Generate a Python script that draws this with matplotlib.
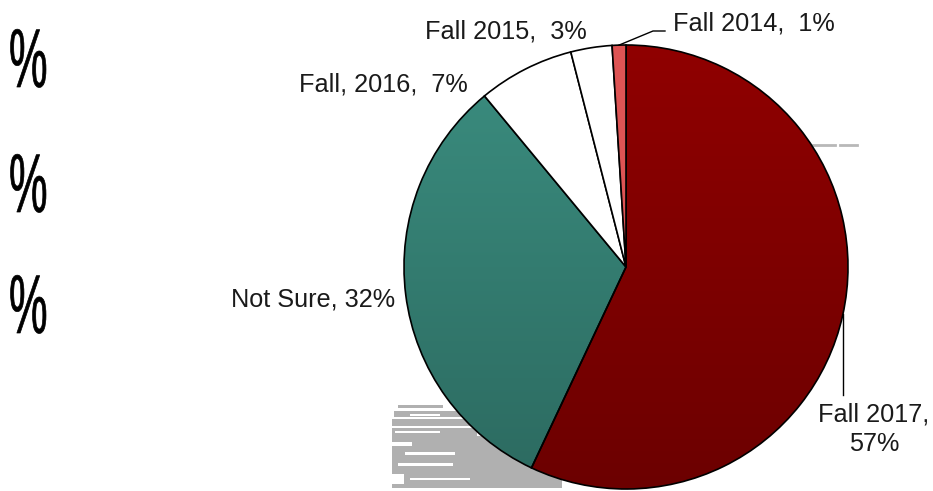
import numpy as np
import matplotlib.pyplot as plt
from matplotlib.colors import LinearSegmentedColormap
from matplotlib.patheffects import AbstractPathEffect
from matplotlib.transforms import Affine2D
from matplotlib.patches import Rectangle

# --- Données ---
labels = ["Fall 2017,\n57%", "Not Sure, 32%", "Fall, 2016,  7%", "Fall 2015,  3%", "Fall 2014,  1%"]
values = [57, 32, 7, 3, 1]
colors = ["none", "none", "white", "white", "#de5454"]
# dégradés (haut -> bas) pour les deux grandes parts
gradients = {0: ("#900000", "#6c0000"), 1: ("#3b8e80", "#2c6a60")}

# positions des étiquettes (pixels, origine en haut à gauche)
label_pos = [(874, 429), (395, 299), (468, 84), (587, 31), (673, 23)]
label_ha = ["center", "right", "right", "right", "left"]

# --- Géométrie ---
W, H = 933, 491
cx, cy, R = 626, 267, 222


def Y(y):
    return H - y


class Squeeze(AbstractPathEffect):
    """Compresse horizontalement le texte (police étroite), avec un léger contour."""
    def __init__(self, sx, lw=0.0):
        super().__init__()
        self.sx = sx
        self.lw = lw

    def draw_path(self, renderer, gc, tpath, affine, rgbFace=None):
        gc.set_linewidth(self.lw)
        renderer.draw_path(gc, tpath, Affine2D().scale(self.sx, 1) + affine, rgbFace)


fig = plt.figure(figsize=(W / 100, H / 100), dpi=100)
ax = fig.add_axes([0, 0, 1, 1])
ax.set_xlim(0, W)
ax.set_ylim(0, H)
ax.axis("off")

# artefacts gris (ombre / restes d'image) derrière le camembert
ax.add_patch(Rectangle((392, Y(488)), 170, 52, color="#b0b0b0", zorder=1, lw=0))
for (x0, y0, w, h) in [(398, 405, 45, 3), (394, 411, 70, 6), (392, 419, 80, 7), (392, 428, 85, 8)]:
    ax.add_patch(Rectangle((x0, Y(y0 + h)), w, h, color="#b0b0b0", zorder=1, lw=0))
for (x0, y0, w, h) in [(410, 414, 30, 2), (395, 431, 45, 2), (392, 442, 20, 4), (405, 452, 50, 3),
                       (398, 463, 55, 3), (392, 474, 12, 10), (410, 478, 60, 2)]:
    ax.add_patch(Rectangle((x0, Y(y0 + h)), w, h, color="white", zorder=1.5, lw=0))
ax.plot([813, 835], [Y(145), Y(145)], color="#b8b8b8", lw=2, zorder=1)
ax.plot([840, 857], [Y(145), Y(145)], color="#b8b8b8", lw=2, zorder=1)

wedges, _ = ax.pie(values, colors=colors, startangle=90, counterclock=False,
                   center=(cx, Y(cy)), radius=R, frame=True,
                   wedgeprops=dict(edgecolor="black", linewidth=1.2, zorder=3))
ax.set_xlim(0, W)
ax.set_ylim(0, H)
ax.axis("off")

for i, (top, bottom) in gradients.items():
    cmap = LinearSegmentedColormap.from_list("g%d" % i, [bottom, top])
    grad = np.linspace(0, 1, 256).reshape(-1, 1)
    im = ax.imshow(grad, cmap=cmap, origin="lower", aspect="auto",
                   extent=(cx - R, cx + R, Y(cy + R), Y(cy - R)), zorder=2)
    im.set_clip_path(wedges[i])
ax.set_xlim(0, W)
ax.set_ylim(0, H)

# étiquettes
for lab, (x, y), ha in zip(labels, label_pos, label_ha):
    ax.text(x, Y(y), lab, ha=ha, va="center", fontsize=18.2, color="#1a1a1a",
            family="Liberation Sans", linespacing=1.3, multialignment="center", zorder=5)

# lignes de rappel
x_att = 843
y_att = cy + np.sqrt(R ** 2 - (x_att - cx) ** 2)
ax.plot([x_att, x_att], [Y(y_att), Y(395)], color="black", lw=1, zorder=4)
a14 = np.deg2rad(90 + 360 * values[-1] / 100 / 2)
x14, y14 = cx + R * np.cos(a14), cy - R * np.sin(a14)
ax.plot([x14, 653, 665], [Y(y14), Y(31), Y(31)], color="black", lw=1, zorder=4)

# symboles % tronqués à gauche
for y in [65, 190, 311]:
    ax.text(9, Y(y), "%", ha="left", va="center", fontsize=60, color="black",
            family="Liberation Sans", path_effects=[Squeeze(0.52, lw=0.5)])

fig.savefig("out.png", dpi=100)
